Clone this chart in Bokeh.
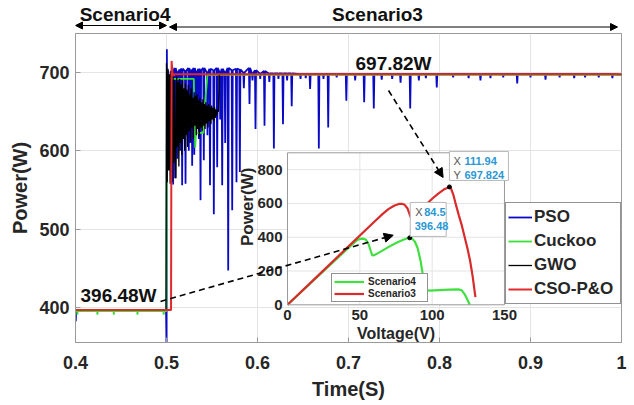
import numpy as np
from bokeh.plotting import figure
from bokeh.layouts import column
from bokeh.models import (Range1d, FixedTicker, Legend, LegendItem, Label,
                          Arrow, NormalHead)
from bokeh.core.properties import value
from bokeh.embed import file_html
from bokeh.resources import INLINE

FONT = "Liberation Sans"
TXT = "#262626"
AXC = "#9a9a9a"
GRID = "#e4e4e4"

# ---------------- main chart data ----------------
x_ticks = [0.4, 0.5, 0.6, 0.7, 0.8, 0.9, 1.0]
x_tick_labels = ["0.4", "0.5", "0.6", "0.7", "0.8", "0.9", "1"]
y_ticks = [400, 500, 600, 700]
y_tick_labels = ["400", "500", "600", "700"]
x_lim = (0.4, 1.0)
y_lim = (355, 750)

series_names = ["PSO", "Cuckoo", "GWO", "CSO-P&O"]
series_colors = ["#0a0ac4", "#36e036", "#000000", "#e0282d"]
scenario_names = ["Scenario4", "Scenario3"]

t_switch = 0.5
mpp_s4 = 396.48
mpp_s3 = 697.82

# PSO: start-up points, then spikes (time, minimum, local top)
pso_lead_t = [0.4000, 0.4003, 0.4007, 0.4995, 0.5001, 0.5004, 0.5010, 0.5016, 0.5032, 0.5045]
pso_lead_w = [396.48, 382.0, 396.48, 396.48, 340.0, 730.0, 600.0, 703.0, 625.0, 701.0]
pso_spike_t = [
    0.5073, 0.5095, 0.5120, 0.5150, 0.5172, 0.5209, 0.5245, 0.5265, 0.5282, 0.5305,
    0.5330, 0.5355, 0.5374, 0.5410, 0.5450, 0.5478, 0.5520, 0.5557, 0.5590, 0.5612,
    0.5645, 0.5678, 0.5722, 0.5769, 0.5806, 0.5850, 0.5912, 0.5945, 0.5978, 0.6030,
    0.6077, 0.6130, 0.6180, 0.6230, 0.6280, 0.6325, 0.6376, 0.6473, 0.6530, 0.6578,
    0.6674, 0.6725, 0.6777, 0.6870, 0.6976, 0.7073, 0.7172, 0.7278, 0.7365, 0.7480,
    0.7572, 0.7678, 0.7773, 0.7850, 0.7970, 0.8150, 0.8320, 0.8450, 0.8560, 0.8700,
    0.8854, 0.9000, 0.9165, 0.9320, 0.9480, 0.9600, 0.9750, 0.9900]
pso_spike_w = [
    557, 565, 590, 600, 556, 558, 600, 610, 581, 595,
    640, 615, 537, 588, 620, 556, 519, 579, 640, 556,
    610, 447, 524, 560, 573, 680, 660, 690, 628, 692,
    632, 688, 603, 692, 634, 690, 657, 692, 693, 679,
    603, 692, 630, 694, 664, 690, 662, 654, 691, 692,
    687, 654, 690, 693, 681, 694, 693, 690, 693, 694,
    686, 694, 691, 694, 693, 694, 694, 693]
pso_spike_top = [
    703, 706, 700, 704, 705, 702, 706, 700, 704, 706,
    700, 705, 703, 706, 700, 705, 703, 706, 700, 705,
    700, 706, 703, 705, 704, 700, 706, 699, 703, 699,
    702, 699, 699, 699, 699, 699, 699, 698, 698, 698,
    698, 698, 698, 698, 698, 698, 698, 698, 698, 698,
    698, 698, 698, 698, 698, 698, 698, 698, 698, 698,
    698, 698, 698, 698, 698, 698, 698, 698]
pso_end_t = [1.0]
pso_end_w = [697.0]

cuckoo_t = [0.4000, 0.4018, 0.4021, 0.4024, 0.4238, 0.4241, 0.4244, 0.4418, 0.4421, 0.4424,
            0.4678, 0.4681, 0.4684, 0.4966, 0.4969, 0.4972, 0.4998, 0.5006, 0.5014, 0.5022,
            0.5060, 0.5300, 0.5315, 0.5325, 0.5405, 0.5412, 0.5450, 1.0000]
cuckoo_w = [395.0, 395.0, 390.5, 395.0, 395.0, 390.5, 395.0, 395.0, 390.5, 395.0,
            395.0, 390.5, 395.0, 395.0, 390.5, 395.0, 395.0, 704.0, 672.0, 694.0,
            692.0, 692.0, 604.0, 623.0, 623.0, 645.0, 697.0, 697.3]

gwo_t = [
    0.4000, 0.4995,
    0.5000, 0.5008, 0.5016, 0.5024, 0.5032, 0.5040, 0.5048, 0.5056, 0.5064, 0.5072,
    0.5080, 0.5088, 0.5096, 0.5104, 0.5112, 0.5120, 0.5128, 0.5136, 0.5144, 0.5152,
    0.5160, 0.5168, 0.5176, 0.5184, 0.5192, 0.5200, 0.5208, 0.5216, 0.5224, 0.5232,
    0.5240, 0.5248, 0.5256, 0.5264, 0.5272, 0.5280, 0.5288, 0.5296, 0.5304, 0.5312,
    0.5320, 0.5328, 0.5336, 0.5344, 0.5352, 0.5360, 0.5368, 0.5376, 0.5384, 0.5392,
    0.5400, 0.5408, 0.5416, 0.5424, 0.5432, 0.5440, 0.5448, 0.5456, 0.5464, 0.5472,
    0.5480, 0.5488, 0.5496, 0.5504, 0.5512, 0.5520, 0.5528, 0.5536, 0.5544, 0.5552,
    0.5560, 0.5570, 0.5580, 1.0000]
gwo_w = [
    396.48, 396.48,
    712, 560, 705, 575, 698, 558, 700, 590, 560, 702,
    585, 690, 600, 565, 695, 605, 688, 580, 692, 610,
    685, 595, 690, 615, 680, 600, 686, 620, 678, 605,
    684, 625, 672, 612, 680, 630, 668, 615, 675, 632,
    670, 620, 672, 628, 665, 618, 668, 630, 662, 625,
    666, 632, 660, 628, 662, 635, 658, 630, 660, 638,
    656, 634, 658, 640, 655, 638, 656, 642, 653, 645,
    652, 650, 697.82, 697.82]

cso_t = [0.4000, 0.5050, 0.5056, 0.5064, 0.5075, 0.5090, 1.0000]
cso_w = [396.48, 396.48, 715.0, 702.0, 696.0, 697.82, 697.82]

# ---------------- inset (P-V curves) data ----------------
inset_v_lim = (0, 150)
inset_p_lim = (0, 900)
inset_v_ticks = [0, 50, 100, 150]
inset_v_tick_labels = ["0", "50", "100", "150"]
inset_p_ticks = [0, 200, 400, 600, 800]
inset_p_tick_labels = ["0", "200", "400", "600", "800"]

s3_v = [0, 20, 40, 60, 66, 70, 74, 77, 79, 81,
        83, 85, 86, 88, 92, 96, 100, 104, 108, 111.94,
        113, 114.7, 116.5, 118.5, 120.5, 122.5, 124.5, 126.2, 128, 129.9]
s3_p = [0, 164, 328, 492, 540, 568, 588, 597, 598, 592,
        570, 522, 510, 525, 560, 595, 628, 657, 682, 697.824,
        690, 650, 590, 528, 470, 400, 330, 262, 168, 45]
s4_v = [0, 20, 40, 48, 50, 52, 54, 56, 57.5, 58.6,
        60, 65, 70, 75, 80, 83, 84.5, 86, 88, 90,
        92, 93.5, 94.5, 95.5, 98, 105, 112, 118, 120.5, 122.5,
        124.5, 126]
s4_p = [0, 160, 320, 383, 390, 392, 387, 360, 320, 292,
        294, 318, 343, 366, 385, 394, 396.48, 392, 375, 335,
        260, 180, 110, 88, 84, 87, 90, 91, 86, 62,
        28, 0]
tip_v = [84.5, 111.94]
tip_p = [396.48, 697.824]

# ---------------- layout (pixels) ----------------
W = 634
TOP_H = 33
MAIN_H = 372
B_L, B_R, B_B = 75, 13, 63
frame_w = W - B_L - B_R
frame_h = MAIN_H - B_B
px_per_t = frame_w / (x_lim[1] - x_lim[0])
px_per_w = frame_h / (y_lim[1] - y_lim[0])

inset_x_span = (0.6330, 0.8714)
inset_y_span = (403.2, 597.5)
inset_px_per_v = (inset_x_span[1] - inset_x_span[0]) * px_per_t / (inset_v_lim[1] - inset_v_lim[0])
inset_px_per_p = (inset_y_span[1] - inset_y_span[0]) * px_per_w / (inset_p_lim[1] - inset_p_lim[0])


def inset_to_main(v, w):
    x = inset_x_span[0] + (v - inset_v_lim[0]) / (inset_v_lim[1] - inset_v_lim[0]) * (inset_x_span[1] - inset_x_span[0])
    y = inset_y_span[0] + (w - inset_p_lim[0]) / (inset_p_lim[1] - inset_p_lim[0]) * (inset_y_span[1] - inset_y_span[0])
    return x, y


xr = Range1d(*x_lim)

# ---------------- top strip: scenario arrows ----------------
top = figure(width=W, height=TOP_H, x_range=xr, y_range=Range1d(0, TOP_H),
             output_backend="svg", toolbar_location=None, title=None,
             x_axis_type=None, y_axis_type=None,
             min_border_left=B_L, min_border_right=B_R, min_border_top=0, min_border_bottom=0,
             background_fill_color="white", border_fill_color="white")
top.outline_line_color = None
top.xgrid.visible = False
top.ygrid.visible = False


def head():
    return NormalHead(size=7, fill_color="black", line_color="black")


top.add_layout(Arrow(start=head(), end=head(), x_start=x_lim[0], y_start=8, x_end=t_switch, y_end=8,
                     line_color="black", line_width=1))
top.add_layout(Arrow(start=head(), end=head(), x_start=t_switch + 3 / px_per_t, y_start=6.5,
                     x_end=x_lim[1] - 4 / px_per_t, y_end=6.5, line_color="black", line_width=1))
for txt, xc in zip(scenario_names, (0.4545, 0.7319)):
    top.add_layout(Label(x=xc, y=19, text=txt, text_align="center", text_baseline="middle",
                         text_font=FONT, text_font_style="bold", text_font_size="19px",
                         text_color="#111111"))

# ---------------- main figure ----------------
p = figure(width=W, height=MAIN_H, x_range=xr, y_range=Range1d(*y_lim),
           output_backend="svg", toolbar_location=None, title=None,
           min_border_left=B_L, min_border_right=B_R, min_border_top=0, min_border_bottom=B_B,
           background_fill_color="white", border_fill_color="white")
p.outline_line_color = AXC

p.xaxis.ticker = FixedTicker(ticks=x_ticks)
p.xaxis.major_label_overrides = {t: l for t, l in zip(x_ticks, x_tick_labels)}
p.yaxis.ticker = FixedTicker(ticks=y_ticks)
p.yaxis.major_label_overrides = {t: l for t, l in zip(y_ticks, y_tick_labels)}
p.xaxis.axis_label = "Time(S)"
p.yaxis.axis_label = "Power(W)"
for ax in (p.xaxis[0], p.yaxis[0]):
    ax.major_label_text_font = FONT
    ax.major_label_text_font_style = "bold"
    ax.major_label_text_font_size = "18px"
    ax.major_label_text_color = TXT
    ax.axis_label_text_font = FONT
    ax.axis_label_text_font_style = "bold"
    ax.axis_label_text_font_size = "20px"
    ax.axis_label_text_color = TXT
    ax.axis_line_color = AXC
    ax.major_tick_line_color = AXC
    ax.major_tick_in = 5
    ax.major_tick_out = 0
    ax.minor_tick_line_color = None
p.xaxis.major_label_standoff = 13
p.xaxis.axis_label_standoff = 6
p.yaxis.major_label_standoff = 6
p.yaxis.axis_label_standoff = 5
p.xgrid.grid_line_color = GRID
p.ygrid.grid_line_color = GRID

pso_t, pso_w = list(pso_lead_t), list(pso_lead_w)
for t, lo, tp in zip(pso_spike_t, pso_spike_w, pso_spike_top):
    pso_t += [t - 0.0006, t, t + 0.0006]
    pso_w += [tp, lo, tp]
pso_t += pso_end_t
pso_w += pso_end_w

r_pso = p.line(pso_t, pso_w, line_color=series_colors[0], line_width=1.8)
r_cuckoo = p.line(cuckoo_t, cuckoo_w, line_color=series_colors[1], line_width=1.8)
r_gwo = p.line(gwo_t, gwo_w, line_color=series_colors[2], line_width=1.3)
r_cso = p.line(cso_t, cso_w, line_color=series_colors[3], line_width=2)

# ---------------- inset ----------------
sub = p.subplot(x_source=Range1d(*inset_v_lim), y_source=Range1d(*inset_p_lim),
                x_target=Range1d(*inset_x_span), y_target=Range1d(*inset_y_span))
sub.quad(left=[inset_v_lim[0]], right=[inset_v_lim[1]], bottom=[inset_p_lim[0]], top=[inset_p_lim[1]],
         fill_color="white", line_color=None)
vg = inset_v_ticks[1:-1]
sub.segment(x0=vg, y0=[inset_p_lim[0]] * len(vg), x1=vg, y1=[inset_p_lim[1]] * len(vg),
            line_color=GRID, line_width=1)
pg = inset_p_ticks[1:]
sub.segment(x0=[inset_v_lim[0]] * len(pg), y0=pg, x1=[inset_v_lim[1]] * len(pg), y1=pg,
            line_color=GRID, line_width=1)
r_s4 = sub.line(s4_v, s4_p, line_color="#3fe03f", line_width=2.2)
r_s3 = sub.line(s3_v, s3_p, line_color="#d92b2b", line_width=2.2)
sub.scatter(tip_v, tip_p, size=4, color="black")
sub.quad(left=[inset_v_lim[0]], right=[inset_v_lim[1]], bottom=[inset_p_lim[0]], top=[inset_p_lim[1]],
         fill_color=None, line_color=AXC, line_width=1)
sub.text(x=inset_v_ticks, y=[inset_p_lim[0]] * len(inset_v_ticks), text=inset_v_tick_labels,
         text_font=value(FONT), text_font_style="bold", text_font_size="15px", text_color=TXT,
         text_align="center", text_baseline="top", y_offset=5)
sub.text(x=[inset_v_lim[0]] * len(inset_p_ticks), y=inset_p_ticks, text=inset_p_tick_labels,
         text_font=value(FONT), text_font_style="bold", text_font_size="15px", text_color=TXT,
         text_align="right", text_baseline="middle", x_offset=-5)
sub.text(x=[(inset_v_lim[0] + inset_v_lim[1]) / 2], y=[inset_p_lim[0]], text=["Voltage(V)"],
         text_font=value(FONT), text_font_style="bold", text_font_size="16px", text_color=TXT,
         text_align="center", text_baseline="middle", y_offset=29)
sub.text(x=[inset_v_lim[0]], y=[580], text=["Power(W)"], angle=np.pi / 2,
         text_font=value(FONT), text_font_style="bold", text_font_size="17px", text_color=TXT,
         text_align="center", text_baseline="middle", x_offset=-40)

# data tips
tip_box_dx = [18.5, 29.5]
tip_box_dy = [18.4, 21.0]
tip_box_w = [36, 59]
tip_box_h = [34, 29]
box_x = [v + dx / inset_px_per_v for v, dx in zip(tip_v, tip_box_dx)]
box_y = [w + dy / inset_px_per_p for w, dy in zip(tip_p, tip_box_dy)]
sub.rect(x=box_x, y=box_y, width=tip_box_w, height=tip_box_h,
         width_units="screen", height_units="screen",
         fill_color="white", line_color="#b8b8b8", line_width=1)
sub.text(x=[tip_v[0], tip_v[1], tip_v[1]], y=[tip_p[0], tip_p[1], tip_p[1]], text=["X", "X", "Y"],
         x_offset=[5.5, 4, 4], y_offset=[-25.7, -25.5, -11.5],
         text_font=value(FONT), text_font_size="11px", text_color="#555555",
         text_align="left", text_baseline="middle")
sub.text(x=[tip_v[0], tip_v[0], tip_v[1], tip_v[1]], y=[tip_p[0], tip_p[0], tip_p[1], tip_p[1]],
         text=[str(tip_v[0]), str(tip_p[0]), str(tip_v[1]), str(tip_p[1])],
         x_offset=[14.5, 5, 15, 15], y_offset=[-25.7, -11.7, -25.5, -11.5],
         text_font=value(FONT), text_font_style="bold", text_font_size="11px", text_color="#2a98d4",
         text_align="left", text_baseline="middle")

# ---------------- legends ----------------
main_legend = Legend(
    items=[LegendItem(label=n, renderers=[r]) for n, r in
           zip(series_names, [r_pso, r_cuckoo, r_gwo, r_cso])],
    location=(430, 38), orientation="vertical", padding=2, spacing=0, margin=0,
    glyph_width=24, glyph_height=24, label_height=24, label_standoff=2, label_width=84,
    label_text_font=FONT, label_text_font_style="bold", label_text_font_size="17px",
    label_text_color=TXT, border_line_color=TXT, border_line_width=1,
    background_fill_color="white", background_fill_alpha=1.0)
p.add_layout(main_legend)

inset_legend = Legend(
    items=[LegendItem(label=n, renderers=[r]) for n, r in zip(scenario_names, [r_s4, r_s3])],
    location=(256, 40), orientation="vertical", padding=2, spacing=1, margin=0,
    glyph_width=30, glyph_height=11, label_height=11, label_standoff=4, label_width=57,
    label_text_font=FONT, label_text_font_style="bold", label_text_font_size="10px",
    label_text_color=TXT, border_line_color=TXT, border_line_width=1,
    background_fill_color="white", background_fill_alpha=1.0)
p.add_layout(inset_legend)

# ---------------- annotations ----------------
p.add_layout(Label(x=0.7077, y=711.6, text=f"{mpp_s3:.2f}W", text_align="left", text_baseline="middle",
                   text_font=FONT, text_font_style="bold", text_font_size="19px", text_color="#111111"))
p.add_layout(Label(x=0.4055, y=415.0, text=f"{mpp_s4:.2f}W", text_align="left", text_baseline="middle",
                   text_font=FONT, text_font_style="bold", text_font_size="19px", text_color="#111111"))

e1x, e1y = inset_to_main(tip_v[0], tip_p[0])
e2x, e2y = inset_to_main(tip_v[1], tip_p[1])
p.add_layout(Arrow(end=NormalHead(size=9, fill_color="black", line_color="black"),
                   x_start=0.4934, y_start=407.5,
                   x_end=e1x - 16.5 / px_per_t, y_end=e1y + 2.6 / px_per_w,
                   line_color="black", line_width=1.6, line_dash="6 4"))
p.add_layout(Arrow(end=NormalHead(size=9, fill_color="black", line_color="black"),
                   x_start=0.744, y_start=677.1,
                   x_end=e2x - 6.3 / px_per_t, y_end=e2y + 9.5 / px_per_w,
                   line_color="black", line_width=1.6, line_dash="6 4"))

layout = column(top, p, spacing=0)
open("out.html", "w").write(file_html(layout, INLINE))
